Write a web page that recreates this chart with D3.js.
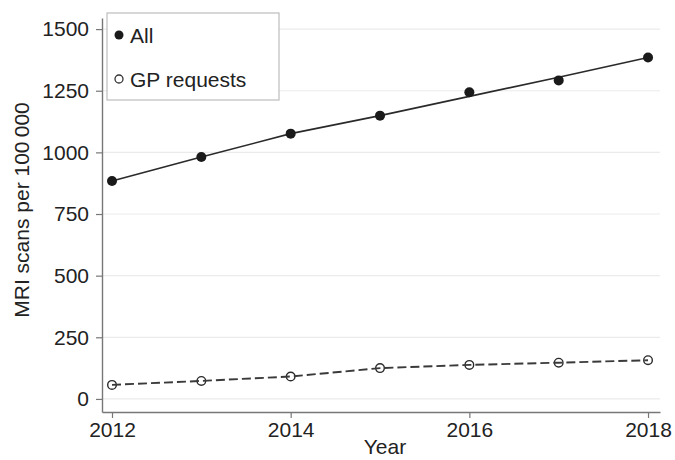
<!DOCTYPE html>
<html>
<head>
<meta charset="utf-8">
<script src="https://cdn.jsdelivr.net/npm/d3@7"></script>
<style>
  html, body { margin: 0; padding: 0; background: #fff; }
  svg { display: block; font-family: "Liberation Sans", Arial, Helvetica, sans-serif; }
</style>
</head>
<body>
<svg id="chart" width="675" height="460"></svg>
<script>
// MRI scan rates per 100 000 population, 2012–2018
const years = [2012, 2013, 2014, 2015, 2016, 2017, 2018];
const allScans = [884, 981, 1076, 1149, 1244, 1292, 1385];
const allTrend = [884, 981, 1076, 1149, 1227, 1305, 1385];
const gpScans = [57, 73, 91, 125, 138, 147, 157];
const gpTrend = [57, 73, 91, 125, 138, 147, 157];
const yTicks = [0, 250, 500, 750, 1000, 1250, 1500];
const xTicks = [2012, 2014, 2016, 2018];
const seriesNames = ["All", "GP requests"];

const svg = d3.select("#chart");
const plotLeft = 102, plotRight = 660, plotTop = 18, plotBottom = 412;

const x = d3.scaleLinear().domain([2011.888, 2018.134]).range([plotLeft, plotRight]);
const y = d3.scaleLinear().domain([-53, 1545]).range([plotBottom, plotTop]);

const axisColor = "#777";
const textColor = "#222";

// horizontal gridlines
svg.append("g")
  .selectAll("line")
  .data(yTicks)
  .join("line")
  .attr("x1", plotLeft + 1).attr("x2", plotRight)
  .attr("y1", d => y(d)).attr("y2", d => y(d))
  .attr("stroke", "#ebebeb").attr("stroke-width", 1.2);

// y axis
const yAxis = svg.append("g")
  .attr("transform", `translate(${plotLeft},0)`)
  .call(d3.axisLeft(y).tickValues(yTicks).tickFormat(d3.format("d"))
    .tickSize(6).tickPadding(7).tickSizeOuter(0));
yAxis.select(".domain").attr("stroke", axisColor).attr("stroke-width", 1.4);
yAxis.selectAll(".tick line").attr("stroke", axisColor).attr("stroke-width", 1.2);
yAxis.selectAll(".tick text")
  .attr("fill", textColor).style("font-size", "21px")
  .style("font-family", '"Liberation Sans", Arial, sans-serif');

// x axis
const xAxis = svg.append("g")
  .attr("transform", `translate(0,${plotBottom})`)
  .call(d3.axisBottom(x).tickValues(xTicks).tickFormat(d3.format("d"))
    .tickSize(6).tickPadding(4).tickSizeOuter(0));
xAxis.select(".domain").attr("stroke", axisColor).attr("stroke-width", 1.4);
xAxis.selectAll(".tick line").attr("stroke", axisColor).attr("stroke-width", 1.2);
xAxis.selectAll(".tick text")
  .attr("fill", textColor).style("font-size", "21px")
  .style("font-family", '"Liberation Sans", Arial, sans-serif');

// axis titles
svg.append("text")
  .attr("x", (plotLeft + plotRight) / 2 + 4).attr("y", 454)
  .attr("text-anchor", "middle")
  .attr("fill", textColor).style("font-size", "21px")
  .text("Year");

svg.append("text")
  .attr("transform", `translate(29,210) rotate(-90)`)
  .attr("text-anchor", "middle")
  .attr("fill", textColor).style("font-size", "21px")
  .text("MRI scans per 100\u2009000");

// trend lines
const line = d3.line().x((d, i) => x(years[i])).y(d => y(d));

svg.append("path")
  .datum(allTrend)
  .attr("d", line)
  .attr("fill", "none").attr("stroke", "#2a2a2a").attr("stroke-width", 1.6);

// markers
svg.append("g")
  .selectAll("circle")
  .data(allScans)
  .join("circle")
  .attr("cx", (d, i) => x(years[i])).attr("cy", d => y(d))
  .attr("r", 5).attr("fill", "#1a1a1a");

svg.append("g")
  .selectAll("circle")
  .data(gpScans)
  .join("circle")
  .attr("cx", (d, i) => x(years[i])).attr("cy", d => y(d))
  .attr("r", 4.3).attr("fill", "none").attr("stroke", "#2a2a2a").attr("stroke-width", 1.4);

svg.append("path")
  .datum(gpTrend)
  .attr("d", line)
  .attr("fill", "none").attr("stroke", "#3a3a3a").attr("stroke-width", 1.9)
  .attr("stroke-dasharray", "9,4");

// legend
const legend = svg.append("g");
legend.append("rect")
  .attr("x", 107).attr("y", 13).attr("width", 172).attr("height", 87)
  .attr("fill", "#fff").attr("stroke", "#bdbdbd").attr("stroke-width", 1.2);

const legendRows = [
  { name: seriesNames[0], cy: 35, filled: true },
  { name: seriesNames[1], cy: 79, filled: false }
];
legendRows.forEach(r => {
  legend.append("circle")
    .attr("cx", 119).attr("cy", r.cy)
    .attr("r", r.filled ? 4.5 : 4)
    .attr("fill", r.filled ? "#1a1a1a" : "#fff")
    .attr("stroke", r.filled ? "none" : "#333").attr("stroke-width", 1.3);
  legend.append("text")
    .attr("x", 130).attr("y", r.cy + 8)
    .attr("fill", textColor).style("font-size", "21px")
    .text(r.name);
});
</script>
</body>
</html>
